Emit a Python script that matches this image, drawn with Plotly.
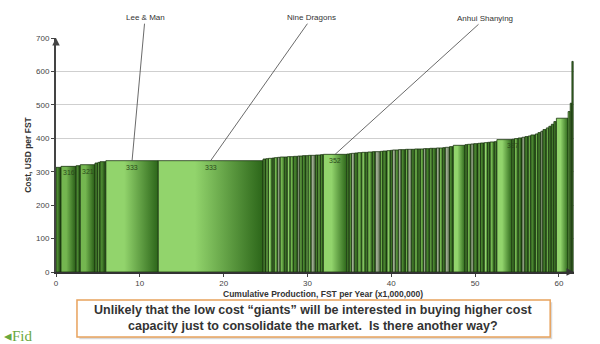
import plotly.graph_objects as go

# ---------------- data ----------------
widths = [0.6, 1.8, 0.5, 1.75, 0.35, 0.25, 0.7, 6.25, 12.5,
          0.35, 0.3, 0.45, 0.25, 0.4, 0.3, 0.55, 0.3, 0.35, 0.4, 0.5, 0.25,
          0.3, 0.45, 0.25, 0.35, 0.5, 0.3, 0.3, 0.35,
          2.8,
          0.3, 0.25, 0.4, 0.35, 0.5,
          0.4, 0.3, 0.55, 0.35, 0.6,
          0.3, 0.5, 0.4,
          0.25, 0.4, 0.3, 0.35, 0.5, 0.3, 0.45, 0.35, 0.4, 0.3,
          0.35, 0.3, 0.45, 0.3, 0.5, 0.35, 0.4, 0.3, 0.5, 0.45,
          1.4,
          0.3, 0.4, 0.35, 0.5, 0.3, 0.45, 0.4, 0.3, 0.5, 0.3,
          1.8,
          0.3, 0.45, 0.45,
          0.35, 0.4, 0.3, 0.55,
          0.3, 0.35, 0.25, 0.4, 0.3, 0.3, 0.3,
          0.3, 1.4, 0.25, 0.2, 0.15]

costs = [313, 316, 318, 321, 326, 328, 330, 333, 333,
         338, 339, 340, 341, 342, 343, 344, 344, 345, 345, 346, 347,
         347, 348, 348, 349, 349, 350, 350, 351,
         352,
         353, 354, 355, 356, 357,
         358, 358, 359, 360, 360,
         361, 362, 363,
         364, 365, 365, 366, 366, 367, 367, 367, 368, 368,
         368, 369, 369, 370, 370, 371, 371, 372, 373, 375,
         379,
         381, 382, 383, 384, 385, 386, 387, 388, 389, 390,
         396,
         397, 399, 401,
         403, 405, 407, 410,
         413, 417, 421, 426, 431, 436, 442,
         450, 460, 480, 505, 630]

labeled_bars = [1, 3, 7, 8, 29, 75]          # bars carrying a value label
callout_names = ["Lee & Man", "Nine Dragons", "Anhui Shanying"]
callout_bars = [7, 8, 29]

x_ticks = [0, 10, 20, 30, 40, 50, 60]
y_ticks = [0, 100, 200, 300, 400, 500, 600, 700]

# ---------------- styles ----------------
tones = ("DMDMDMDLL"
         "DMLDMGMDLMDG"
         "MDLMGDMD"
         "L"
         "DMGDM"
         "LDMDG"
         "MDL"
         "DGMGDMGDMD"
         "MGDMDGMDGD"
         "L"
         "DMGDMDLDMD"
         "L"
         "DMD"
         "GDMD"
         "MDGDMDD"
         "DLMDD")
palette = {
    "L": ("#92d46c", "#2c6619"),
    "M": ("#74b650", "#275a15"),
    "D": ("#4a8630", "#15370b"),
    "G": ("#9dab91", "#4b6040"),
}
edge = "#1b3510"

fig = go.Figure()

left = 0.0
lefts = []
for i, (w, c) in enumerate(zip(widths, costs)):
    x0, x1 = left, left + w
    lefts.append(x0)
    c_light, c_dark = palette[tones[i]]
    fig.add_trace(go.Scatter(
        x=[x0, x0, x1, x1, x0], y=[0, c, c, 0, 0],
        mode="lines", fill="toself",
        fillgradient=dict(type="horizontal",
                          colorscale=[[0, c_light], [0.35, c_light], [1, c_dark]]),
        line=dict(color=edge, width=0.8),
        hoverinfo="skip", showlegend=False))
    left = x1

annotations = []
for i in labeled_bars:
    annotations.append(dict(
        x=lefts[i] + widths[i] / 2, y=costs[i], xref="x", yref="y",
        text=str(costs[i]), showarrow=False, yanchor="top", yshift=-1,
        font=dict(size=7, color="#2b4a1c")))

offsets = [(13, -143), (101, -143), (150, -136)]
for name, i, (ax, ay) in zip(callout_names, callout_bars, offsets):
    annotations.append(dict(
        x=lefts[i] + widths[i] / 2, y=costs[i], xref="x", yref="y",
        text=name, showarrow=True, arrowhead=0, arrowwidth=0.8,
        arrowcolor="#444444", ax=ax, ay=ay,
        font=dict(size=8, color="#333333")))

# axis arrows
annotations.append(dict(x=0, y=700, xref="x", yref="y", ax=0, ay=8,
                        text="", showarrow=True, arrowhead=2, arrowsize=1,
                        arrowwidth=1.5, arrowcolor="#444444"))
annotations.append(dict(x=61.8, y=0, xref="x", yref="y", ax=-8, ay=0,
                        text="", showarrow=True, arrowhead=2, arrowsize=1,
                        arrowwidth=1.5, arrowcolor="#333333"))

# x-axis title (slightly right of centre, as in the reference)
annotations.append(dict(
    x=0.515, y=-0.092, xref="paper", yref="paper", xanchor="center", yanchor="middle",
    text="<b>Cumulative Production, FST per Year (x1,000,000)</b>", showarrow=False,
    font=dict(size=8.5, color="#333333")))

# bottom message box
annotations.append(dict(
    x=0.497, y=-0.198, xref="paper", yref="paper", xanchor="center", yanchor="middle",
    text="<b>Unlikely that the low cost \u201cgiants\u201d will be interested in buying higher cost"
         "<br>capacity just to consolidate the market.  Is there another way?</b>",
    showarrow=False, align="center",
    font=dict(size=12.5, color="#333333", family="Liberation Sans")))
annotations.append(dict(
    x=-0.04, y=-0.232, xref="paper", yref="paper", xanchor="right", yanchor="top",
    text="\u25c2Fid", showarrow=False,
    font=dict(size=15, color="#6aa83e", family="Liberation Serif")))

shapes = [
    dict(type="rect", xref="paper", yref="paper", x0=0.045, x1=0.958,
         y0=-0.287, y1=-0.129, line=dict(width=0), fillcolor="#d9d9d9", layer="below"),
    dict(type="rect", xref="paper", yref="paper", x0=0.0405, x1=0.954,
         y0=-0.278, y1=-0.12, line=dict(color="#e8a25c", width=1.5),
         fillcolor="white", layer="above"),
]

fig.update_layout(
    width=600, height=344,
    margin=dict(l=56, r=26, t=38, b=72),
    paper_bgcolor="white", plot_bgcolor="white",
    font=dict(family="Liberation Sans", size=8, color="#444444"),
    annotations=annotations, shapes=shapes,
    xaxis=dict(range=[0, 61.8], tickvals=x_ticks, ticks="outside", ticklen=3,
               tickcolor="#444444", showline=True, linecolor="#333333", linewidth=1.5,
               showgrid=False, zeroline=False, tickfont=dict(size=8, color="#444444")),
    yaxis=dict(range=[0, 700], tickvals=y_ticks, ticks="outside", ticklen=3,
               tickcolor="#444444", showline=True, linecolor="#444444", linewidth=2,
               showgrid=True, gridcolor="#cfcfcf", gridwidth=1, zeroline=False,
               tickfont=dict(size=8, color="#444444"),
               title=dict(text="<b>Cost, USD per FST</b>",
                          font=dict(size=8.5, color="#333333"), standoff=3)),
)

fig.write_html("out.html")
